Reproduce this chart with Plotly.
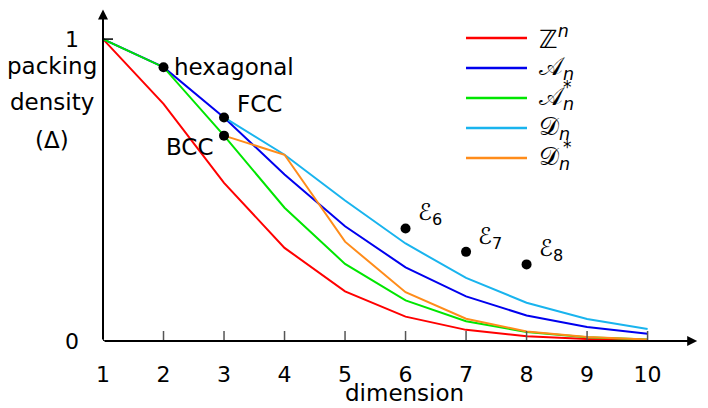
import plotly.graph_objects as go

dims = [1, 2, 3, 4, 5, 6, 7, 8, 9, 10]
z_n = [1.0, 0.7854, 0.5236, 0.3084, 0.1645, 0.0807, 0.0369, 0.0159, 0.0064, 0.0025]
a_n = [1.0, 0.9069, 0.7405, 0.5517, 0.3799, 0.2441, 0.1476, 0.0846, 0.0461, 0.0240]
a_n_star = [1.0, 0.9069, 0.6802, 0.4414, 0.2554, 0.1345, 0.0654, 0.0297, 0.0127, 0.0051]
d_dims = [3, 4, 5, 6, 7, 8, 9, 10]
d_n = [0.7405, 0.6169, 0.4653, 0.3230, 0.2088, 0.1268, 0.0729, 0.0398]
d_n_star = [0.6802, 0.6169, 0.3290, 0.1615, 0.0738, 0.0317, 0.0129, 0.0050]

legend_base = ["ℤ<sup><i>n</i></sup>", "𝒜<sub><i>n</i></sub>", "𝒜<sub><i>n</i></sub>",
               "𝒟<sub><i>n</i></sub>", "𝒟<sub><i>n</i></sub>"]
legend_star = ["", "", "*", "", "*"]
series_x = [dims, dims, dims, d_dims, d_dims]
series_y = [z_n, a_n, a_n_star, d_n, d_n_star]
colors = ["#ff0000", "#0000ee", "#00e600", "#19b4ee", "#ff8c1a"]

special_x = [2, 3, 3, 6, 7, 8]
special_y = [0.9069, 0.7405, 0.6802, 0.3729, 0.2953, 0.2537]
special_labels = ["hexagonal", "FCC", "BCC", "ℰ<sub>6</sub>", "ℰ<sub>7</sub>", "ℰ<sub>8</sub>"]
label_off = [(8, 0, "left"), (11, 13, "left"), (-8, -11, "right"),
             (10, 14, "left"), (10, 14, "left"), (10, 14, "left")]

y_title_lines = ["packing", "density", "(Δ)"]
x_title = "dimension"
x_ticks = dims
y_ticks = [0, 1]

FONT = "DejaVu Sans"

# page has an 8px body margin: reference pixel (xr, yr) -> figure pixel (xr-8, yr-8)
L, T, W, H = 95, 0, 593, 333
def px(xr):
    return (xr - 8 - L) / W
def py(yr):
    return (T + H - (yr - 8)) / H

fig = go.Figure()
for xs, ys, c in zip(series_x, series_y, colors):
    fig.add_trace(go.Scatter(x=xs, y=ys, mode="lines", line=dict(color=c, width=2),
                             showlegend=False, hoverinfo="skip"))

fig.add_trace(go.Scatter(x=special_x, y=special_y, mode="markers",
                         marker=dict(color="black", size=10), showlegend=False, hoverinfo="skip"))

for sx, sy, lab, (dx, dy, xa) in zip(special_x, special_y, special_labels, label_off):
    fig.add_annotation(x=sx, y=sy, text=lab, showarrow=False, xshift=dx, yshift=dy,
                       xanchor=xa, yanchor="middle", font=dict(family=FONT, size=23, color="black"))

shapes = []
for t in x_ticks:
    shapes.append(dict(type="line", xref="x", yref="y", x0=t, x1=t, ysizemode="pixel", yanchor=0,
                       y0=-10, y1=10, line=dict(color="#555555" if t != 1 else "black", width=1.5)))
for t in y_ticks:
    shapes.append(dict(type="line", xref="x", yref="y", y0=t, y1=t, xsizemode="pixel", xanchor=1,
                       x0=-10, x1=10, line=dict(color="black", width=1.5)))

leg_y = [38, 68, 98, 128, 158]
for base, star, c, ly in zip(legend_base, legend_star, colors, leg_y):
    shapes.append(dict(type="line", xref="paper", yref="paper", x0=px(466), x1=px(527),
                       y0=py(ly), y1=py(ly), line=dict(color=c, width=2.5)))
    fig.add_annotation(xref="paper", yref="paper", x=px(537), y=py(ly), text=base,
                       showarrow=False, xanchor="left", yanchor="middle",
                       font=dict(family=FONT, size=25, color="black"))
    if star:
        fig.add_annotation(xref="paper", yref="paper", x=px(561), y=py(ly - 11), text=star,
                           showarrow=False, xanchor="left", yanchor="middle",
                           font=dict(family=FONT, size=17, color="black"))

fig.add_annotation(x=10.82, y=0, ax=1, ay=0, xref="x", yref="y", axref="x", ayref="y",
                   showarrow=True, arrowhead=2, arrowsize=1, arrowwidth=2, arrowcolor="black", text="")
fig.add_annotation(x=1, y=1.098, ax=1, ay=0, xref="x", yref="y", axref="x", ayref="y",
                   showarrow=True, arrowhead=2, arrowsize=1, arrowwidth=2, arrowcolor="black", text="")

for line_txt, ly in zip(y_title_lines, [66, 102, 140]):
    fig.add_annotation(xref="paper", yref="paper", x=px(52), y=py(ly), text=line_txt,
                       showarrow=False, xanchor="center", yanchor="middle",
                       font=dict(family=FONT, size=23, color="black"))
fig.add_annotation(xref="paper", yref="paper", x=px(404), y=py(393), text=x_title,
                   showarrow=False, xanchor="center", yanchor="middle",
                   font=dict(family=FONT, size=23, color="black"))

fig.update_layout(
    width=700, height=400,
    margin=dict(l=L, r=700 - L - W, t=T, b=400 - T - H),
    plot_bgcolor="white", paper_bgcolor="white",
    shapes=shapes,
    xaxis=dict(range=[1, 10.8], tickvals=x_ticks, ticktext=[str(t) for t in x_ticks],
               showgrid=False, zeroline=False, showline=False, ticks="",
               ticklabelstandoff=18,
               tickfont=dict(family=FONT, size=22, color="black")),
    yaxis=dict(range=[0, 1.103], tickvals=y_ticks, ticktext=[str(t) for t in y_ticks],
               showgrid=False, zeroline=False, showline=False, ticks="",
               ticklabelstandoff=23,
               tickfont=dict(family=FONT, size=22, color="black")),
)

fig.write_html("out.html")
